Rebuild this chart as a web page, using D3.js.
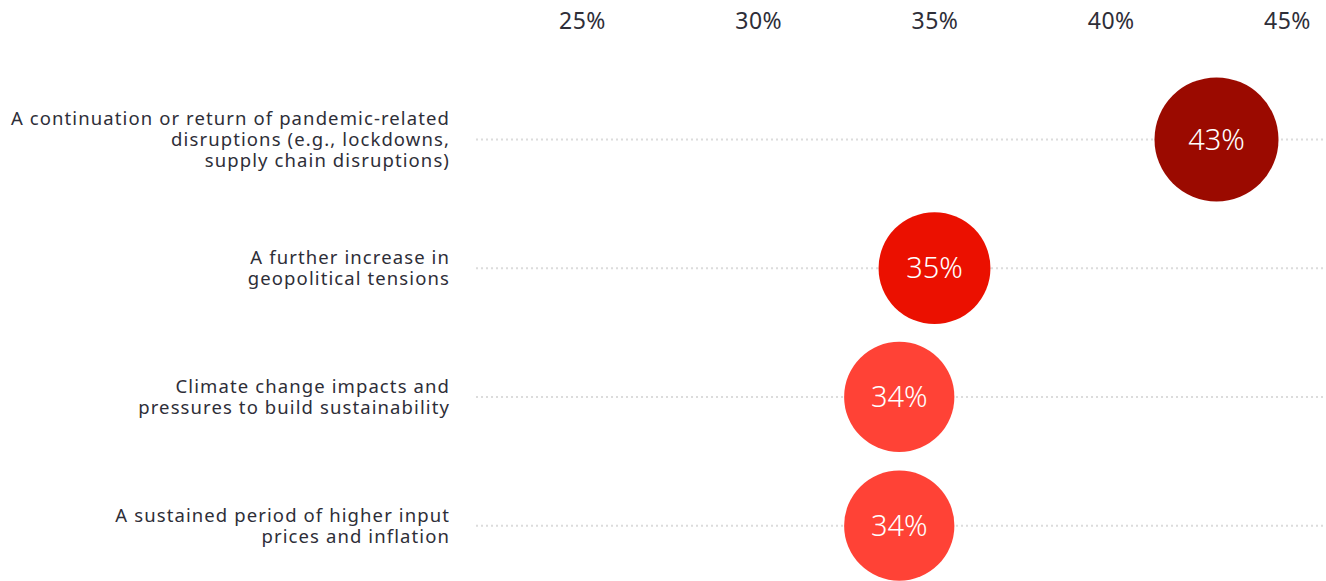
<!DOCTYPE html>
<html>
<head>
<meta charset="utf-8">
<script src="https://cdn.jsdelivr.net/npm/d3@7"></script>
<style>
  body { margin: 0; background: #fff; }
  .axis .domain, .axis line { display: none; }
</style>
</head>
<body>
<div id="chart-area"></div>
<script>
const categories = [
  ["A continuation or return of pandemic-related", "disruptions (e.g., lockdowns,", "supply chain disruptions)"],
  ["A further increase in", "geopolitical tensions"],
  ["Climate change impacts and", "pressures to build sustainability"],
  ["A sustained period of higher input", "prices and inflation"]
]
const values = [43, 35, 34, 34]
const colors = ["#9b0a00", "#eb1000", "#ff4236", "#ff4236"]
const tickValues = [25, 30, 35, 40, 45]

const W = 1326, H = 581
const FONT = "'Noto Sans', sans-serif"

const svg = d3.select("#chart-area").append("svg")
  .attr("width", W)
  .attr("height", H)
  .style("font-family", FONT)

const x = d3.scaleLinear()
  .domain([25, 45])
  .range([582, 1287])

const y = d3.scaleBand()
  .domain(d3.range(categories.length))
  .range([75, 590])

const r = d3.scaleSqrt()
  .domain([0, 43])
  .range([0, 62])

// top axis
const xAxisCall = d3.axisTop(x)
  .tickValues(tickValues)
  .tickFormat(d => d + "%")
  .tickSize(0)

svg.append("g")
  .attr("class", "x axis")
  .attr("transform", "translate(0, 32)")
  .call(xAxisCall)
  .selectAll("text")
    .attr("fill", "#2e2e38")
    .style("font-family", FONT)
    .style("font-size", "23px")
    .style("letter-spacing", "0.5px")

const rows = svg.selectAll(".row")
  .data(values)
  .enter().append("g")
  .attr("class", "row")
  .attr("transform", (d, i) => `translate(0, ${y(i) + y.bandwidth() / 2})`)

// dotted guide lines
rows.append("line")
  .attr("x1", 476)
  .attr("x2", W)
  .attr("stroke", "#dcdcdc")
  .attr("stroke-width", 2)
  .attr("stroke-dasharray", "2,3")

// category labels
rows.append("text")
  .attr("text-anchor", "end")
  .attr("fill", "#2e2e38")
  .style("font-size", "18.5px")
  .style("letter-spacing", "1.1px")
  .each(function(d, i) {
    const lines = categories[i]
    const t = d3.select(this)
    const lh = 21
    const start = -((lines.length - 1) * lh) / 2
    lines.forEach((l, j) => {
      t.append("tspan")
        .attr("x", 450)
        .attr("y", start + j * lh)
        .attr("dy", "0.35em")
        .text(l)
    })
  })

// bubbles
rows.append("circle")
  .attr("cx", d => x(d))
  .attr("r", d => r(d))
  .attr("fill", (d, i) => colors[i])

rows.append("text")
  .attr("x", d => x(d))
  .attr("dy", "0.35em")
  .attr("text-anchor", "middle")
  .attr("fill", "#fff")
  .style("font-size", "29px")
  .style("font-weight", 300)
  .text(d => d + "%")
</script>
</body>
</html>
